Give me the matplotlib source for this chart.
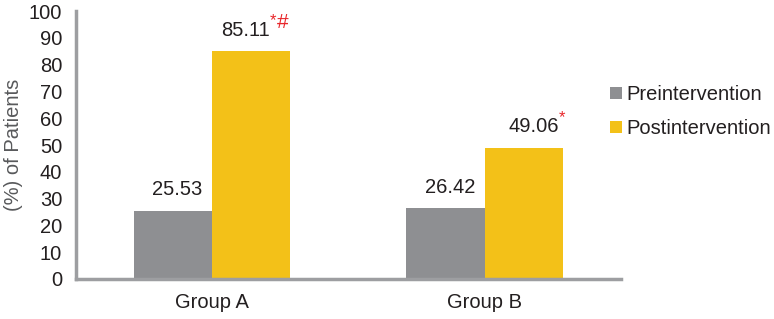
import numpy as np
import matplotlib.pyplot as plt

plt.rcParams['font.family'] = ['Liberation Sans', 'DejaVu Sans']

groups = ["Group A", "Group B"]
pre = [25.53, 26.42]
post = [85.11, 49.06]
post_star = ["*", "*"]
post_hash = ["#", ""]
series_names = ["Preintervention", "Postintervention"]
yticks = [0, 10, 20, 30, 40, 50, 60, 70, 80, 90, 100]

# small horizontal nudges of the value labels (points), as in the original
pre_dx = [3, 3]
post_dx = [-4, 7]

gray = "#8e8f92"
yellow = "#f3c118"
red = "#e8262a"
txt = "#231f20"

fig = plt.figure(figsize=(7.74, 3.19), dpi=100)
ax = fig.add_axes([0.0982, 0.1254, 0.704, 0.840])

x = np.arange(len(groups))
w = 0.287
b1 = ax.bar(x - w/2, pre, w, color=gray, label=series_names[0])
b2 = ax.bar(x + w/2, post, w, color=yellow, label=series_names[1])

# value labels above bars
for bar, v, dx in zip(b1, pre, pre_dx):
    ax.annotate(f"{v:.2f}", (bar.get_x() + bar.get_width()/2, v),
                xytext=(dx, 8), textcoords="offset points",
                ha="center", va="bottom", fontsize=14.5, color=txt)
for bar, v, dx, s, h in zip(b2, post, post_dx, post_star, post_hash):
    t = ax.annotate(f"{v:.2f}", (bar.get_x() + bar.get_width()/2, v),
                    xytext=(dx, 8), textcoords="offset points",
                    ha="center", va="bottom", fontsize=14.5, color=txt)
    st = ax.annotate(s, xy=(1, 0.62), xycoords=t, ha="left", va="bottom",
                     fontsize=12, color=red)
    if h:
        ax.annotate(h, xy=(1, 0.42), xycoords=t, xytext=(5, 0),
                    textcoords="offset points", ha="left", va="bottom",
                    fontsize=15, color=red)

ax.set_xlim(-0.5, 1.5)
ax.set_ylim(0, 100)
ax.set_yticks(yticks)
ax.set_xticks(x)
ax.set_xticklabels(groups, fontsize=14.5, color=txt)
ax.tick_params(axis="y", labelsize=14.5, labelcolor=txt, length=0, pad=10)
ax.tick_params(axis="x", length=0, pad=10)
ax.set_ylabel("(%) of Patients", fontsize=14.5, color="#58595b", labelpad=4)

for s in ["top", "right"]:
    ax.spines[s].set_visible(False)
for s in ["left", "bottom"]:
    ax.spines[s].set_color("#9d9ea1")
    ax.spines[s].set_linewidth(2.5)

leg = fig.legend(handles=[b1, b2], loc="center left", bbox_to_anchor=(0.765, 0.65),
                 frameon=False, fontsize=14.5, handlelength=0.6, handleheight=0.6,
                 handletextpad=0.2, labelspacing=0.75)
for t in leg.get_texts():
    t.set_color(txt)

fig.savefig("out.png", dpi=100)
